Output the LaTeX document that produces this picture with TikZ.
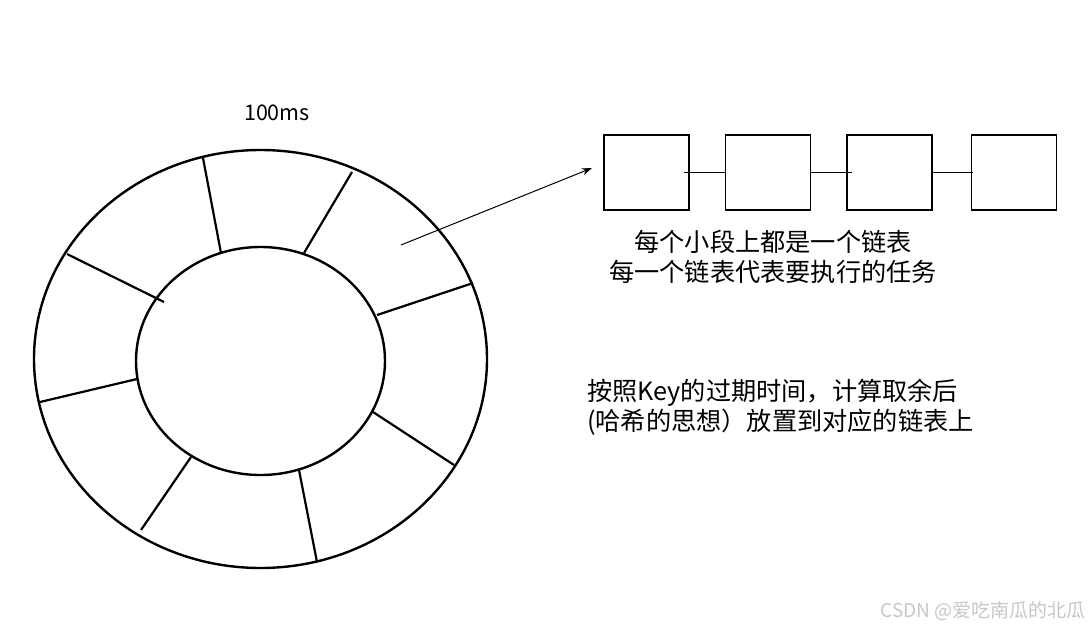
\documentclass[tikz,border=0pt]{standalone}
\usepackage{fontspec}
\setmainfont{Noto Sans CJK SC}
\usetikzlibrary{%
   arrows.meta,%
   positioning%
}

\begin{document}
\begin{tikzpicture}[x=1pt,y=-1pt,
	wheel/.style={
	line width=2.4pt,draw=black
	},slot/.style={
	rectangle,minimum width=85pt,minimum height=75pt,
	line width=1.4pt,draw=black,inner sep=0pt
	},link/.style={
	line width=1.2pt
	},caption/.style={
	font=\fontsize{25.2}{30}\selectfont,align=left,inner sep=0pt
	},periodlabel/.style={
	font=\fontsize{21.5}{24}\selectfont,inner sep=0pt
	}
]
\useasboundingbox (0,0) rectangle (1091,629);

% the time wheel
\draw[wheel] (260.5,359) ellipse [x radius=226.5pt,y radius=209pt];
\draw[wheel] (260.5,361) ellipse [x radius=124.5pt,y radius=114pt];
\foreach \ox/\oy/\ix/\iy in {203/158/221/253, 352/172/304/253,
	473/283/377/315, 454/465/373/412, 317/562/299/470,
	141/530/191/457, 40/402/137/379, 67/254/164/302}
	\draw[wheel,line width=2.2pt] (\ox,\oy) -- (\ix,\iy);

\node (period) [periodlabel] at (277,113) {100ms};

% one linked list
\node (node1) [slot] at (646.5,172.5) {};
\node (node2) [slot,right=35pt of node1] {};
\node (node3) [slot,right=35pt of node2] {};
\node (node4) [slot,right=38pt of node3] {};

\path[link] ([xshift=-6pt]node1.east) edge (node2.west)
	(node2.east) edge ([xshift=6pt]node3.west)
	(node3.east) edge ([xshift=2pt]node4.west);

\coordinate (tick) at (401,245);
\coordinate (head) at (592,168);
\draw[line width=1pt,-{Stealth[length=10pt,width=7pt]}] (tick) -- (head);

\node (note1) [caption,align=center] at (773,256.5) {每个小段上都是一个链表\\每一个链表代表要执行的任务};
\node (note2) [caption,anchor=west] at (587,407.5) {按照Key的过期时间，计算取余后\\(哈希的思想）放置到对应的链表上};

\node (credit) [font=\fontsize{19}{20}\selectfont,text=black!22,anchor=east,inner sep=0pt] at (1086,611) {CSDN @爱吃南瓜的北瓜};

\end{tikzpicture}
\end{document}
